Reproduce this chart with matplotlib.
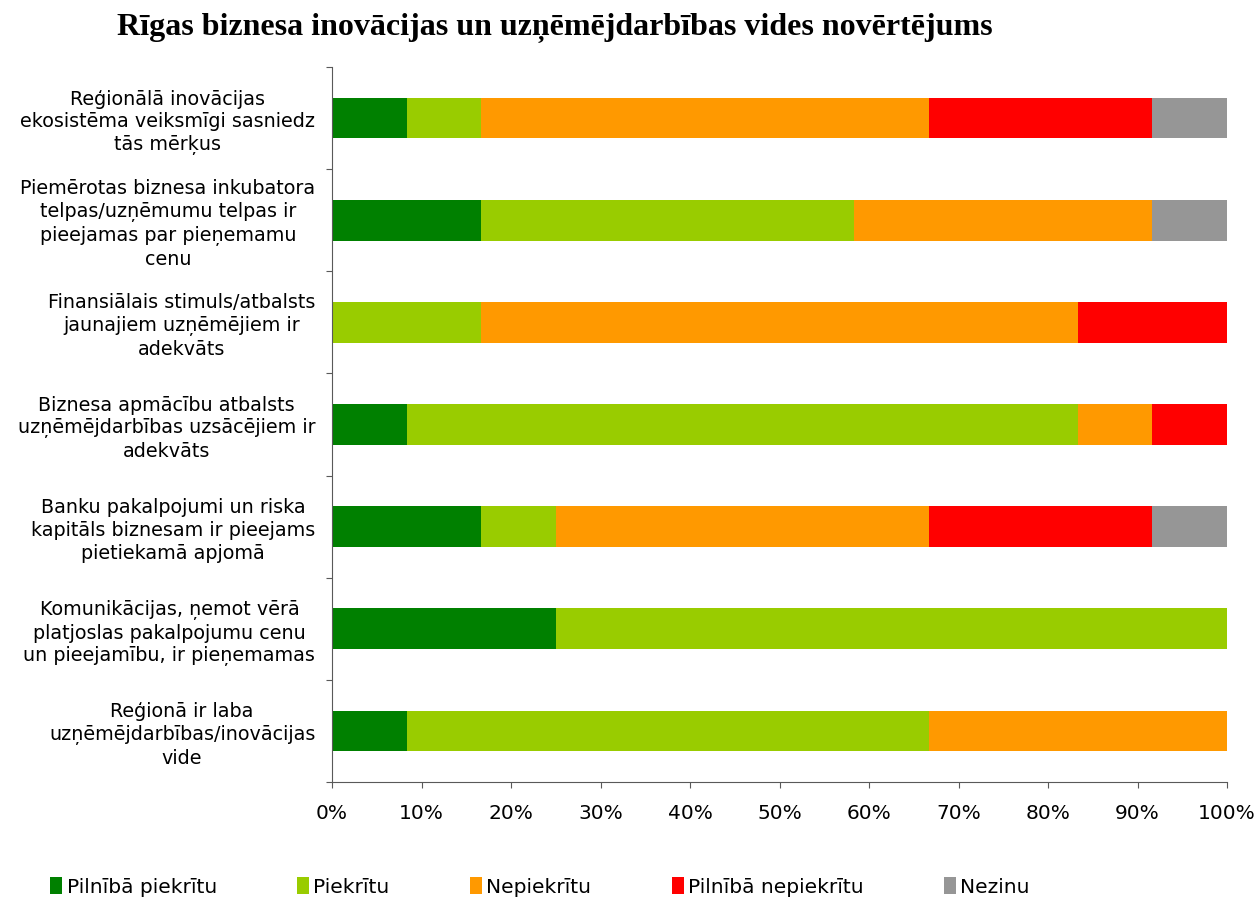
import matplotlib.pyplot as plt
import numpy as np

categories = [
    "Reģionālā inovācijas\nekosistēma veiksmīgi sasniedz\ntās mērķus",
    "Piemērotas biznesa inkubatora\ntelpas/uzņēmumu telpas ir\npieejamas par pieņemamu\ncenu",
    "Finansiālais stimuls/atbalsts\njaunajiem uzņēmējiem ir\nadekvāts",
    "Biznesa apmācību atbalsts\nuzņēmējdarbības uzsācējiem ir\nadekvāts",
    "Banku pakalpojumi un riska\nkapitāls biznesam ir pieejams\npietiekamā apjomā",
    "Komunikācijas, ņemot vērā\nplatjoslas pakalpojumu cenu\nun pieejamību, ir pieņemamas",
    "Reģionā ir laba\nuzņēmējdarbības/inovācijas\nvide",
]

series_names = ["Pilnībā piekrītu", "Piekrītu", "Nepiekrītu", "Pilnībā nepiekrītu", "Nezinu"]
colors = ["#008000", "#99CC00", "#FF9900", "#FF0000", "#969696"]

pilniba_piekritu = [8.33, 16.67, 0.0, 8.33, 16.67, 25.0, 8.33]
piekritu = [8.33, 41.67, 16.67, 75.0, 8.33, 75.0, 58.33]
nepiekritu = [50.0, 33.33, 66.67, 8.33, 41.67, 0.0, 33.33]
pilniba_nepiekritu = [25.0, 0.0, 16.67, 8.33, 25.0, 0.0, 0.0]
nezinu = [8.33, 8.33, 0.0, 0.0, 8.33, 0.0, 0.0]

series = [pilniba_piekritu, piekritu, nepiekritu, pilniba_nepiekritu, nezinu]

plt.rcParams['font.family'] = ['DejaVu Sans']

fig = plt.figure(figsize=(12.6, 8.97), dpi=100)
ax = fig.add_axes([332 / 1260, 1 - 782 / 897, (1227 - 332) / 1260, (782 - 67) / 897])

y = np.arange(len(categories))
left = np.zeros(len(categories))
for name, vals, c in zip(series_names, series, colors):
    vals = np.array(vals)
    ax.barh(y, vals, left=left, height=0.4, color=c, label=name)
    left += vals

ax.set_xlim(0, 100)
ax.set_ylim(len(categories) - 0.5, -0.5)

ax.set_xticks(np.arange(0, 101, 10))
ax.set_xticklabels([f"{v}%" for v in range(0, 101, 10)], fontsize=14.5)
ax.set_yticks(np.arange(-0.5, len(categories), 1.0))
ax.set_yticklabels([])
ax.set_yticks(y, minor=True)
ax.set_yticklabels(categories, minor=True, fontsize=13.8, multialignment='center', linespacing=1.25)
ax.tick_params(axis='y', which='minor', length=0, pad=12)
ax.tick_params(axis='y', which='major', length=4.5, color='#595959')
ax.tick_params(axis='x', length=4.5, color='#595959', pad=11)

for s in ['top', 'right']:
    ax.spines[s].set_visible(False)
for s in ['left', 'bottom']:
    ax.spines[s].set_color('#595959')

fig.text(555 / 1260, 1 - 28 / 897, "Rīgas biznesa inovācijas un uzņēmējdarbības vides novērtējums",
         ha='center', va='center', fontsize=23, fontweight='bold', family='Liberation Serif')

fig.legend(loc='center left', bbox_to_anchor=(0.04, 0.011), ncol=5, frameon=False,
           fontsize=14.5, handlelength=0.6, handleheight=0.9, handletextpad=0.2,
           columnspacing=4.0, borderpad=0, borderaxespad=0)

fig.savefig("out.png", dpi=100)
